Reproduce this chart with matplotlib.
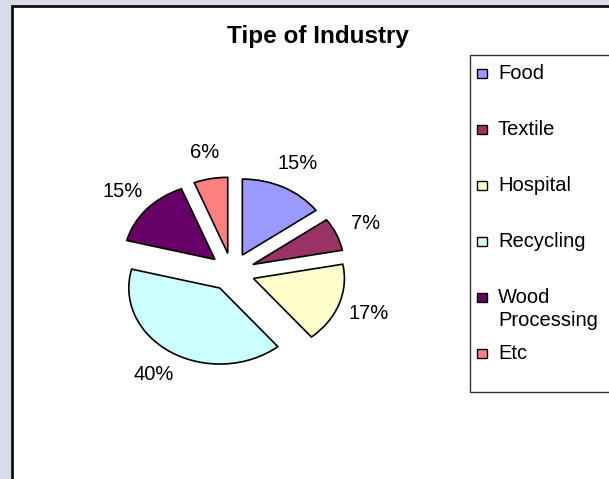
import matplotlib
matplotlib.use("Agg")
import matplotlib.pyplot as plt
from matplotlib.patches import Rectangle

plt.rcParams["font.family"] = ["Liberation Sans", "DejaVu Sans"]

# data
categories = ["Food", "Textile", "Hospital", "Recycling", "Wood\nProcessing", "Etc"]
shares = [15, 7, 17, 40, 15, 6]
colors = ["#9999FF", "#993366", "#FFFFCC", "#CCFFFF", "#660066", "#FF8080"]
title = "Tipe of Industry"

W, H = 609, 479
fig = plt.figure(figsize=(W / 100, H / 100), dpi=100)
fig.patch.set_facecolor("#d8dce6")

# white chart area with dark border (right/bottom run off the image)
fig.patches.append(Rectangle((11.5 / W, -0.1), 1.2, 1.1 - 6.5 / H,
                             transform=fig.transFigure, facecolor="white",
                             edgecolor="#111111", linewidth=2, zorder=0))

# pie axes: whole figure, scaled so the unit circle becomes the flattened ellipse
cx, cy, rx, ry = 232, 272, 91, 76
ax = fig.add_axes([0, 0, 1, 1])
ax.set_zorder(0.5)
ax.patch.set_alpha(0)
wedges, texts, autotexts = ax.pie(
    shares, colors=colors, startangle=90, counterclock=False,
    explode=[0.25] * len(shares), autopct="%1.0f%%", pctdistance=1.35,
    wedgeprops=dict(edgecolor="black", linewidth=1.2),
    textprops=dict(fontsize=14.5, color="black"),
)
ax.set_aspect("auto")
ax.set_xlim(-cx / rx, (W - cx) / rx)
ax.set_ylim(-(H - cy) / ry, cy / ry)
ax.axis("off")

fig.text(318 / W, 1 - 36 / H, title, ha="center", va="center",
         fontsize=17.5, fontweight="bold")

# legend box, drawn like the spreadsheet one
lx, ly_top, ly_bot = 470, 55, 392
fig.patches.append(Rectangle((lx / W, 1 - ly_bot / H), 1.0, (ly_bot - ly_top) / H,
                             transform=fig.transFigure, facecolor="white",
                             edgecolor="#333333", linewidth=1, zorder=1))
y0, step, sq, line_step = 73.5, 56, 9.5, 23
for i, (name, col) in enumerate(zip(categories, colors)):
    y = y0 + i * step
    fig.patches.append(Rectangle(((482 - sq / 2) / W, 1 - (y + sq / 2) / H), sq / W, sq / H,
                                 transform=fig.transFigure, facecolor=col,
                                 edgecolor="black", linewidth=1, zorder=2))
    for j, line in enumerate(name.split("\n")):
        fig.text(498 / W, 1 - (y + j * line_step) / H, line, ha="left", va="center",
                 fontsize=14.5, zorder=3)

fig.savefig("out.png", dpi=100, facecolor=fig.get_facecolor())
